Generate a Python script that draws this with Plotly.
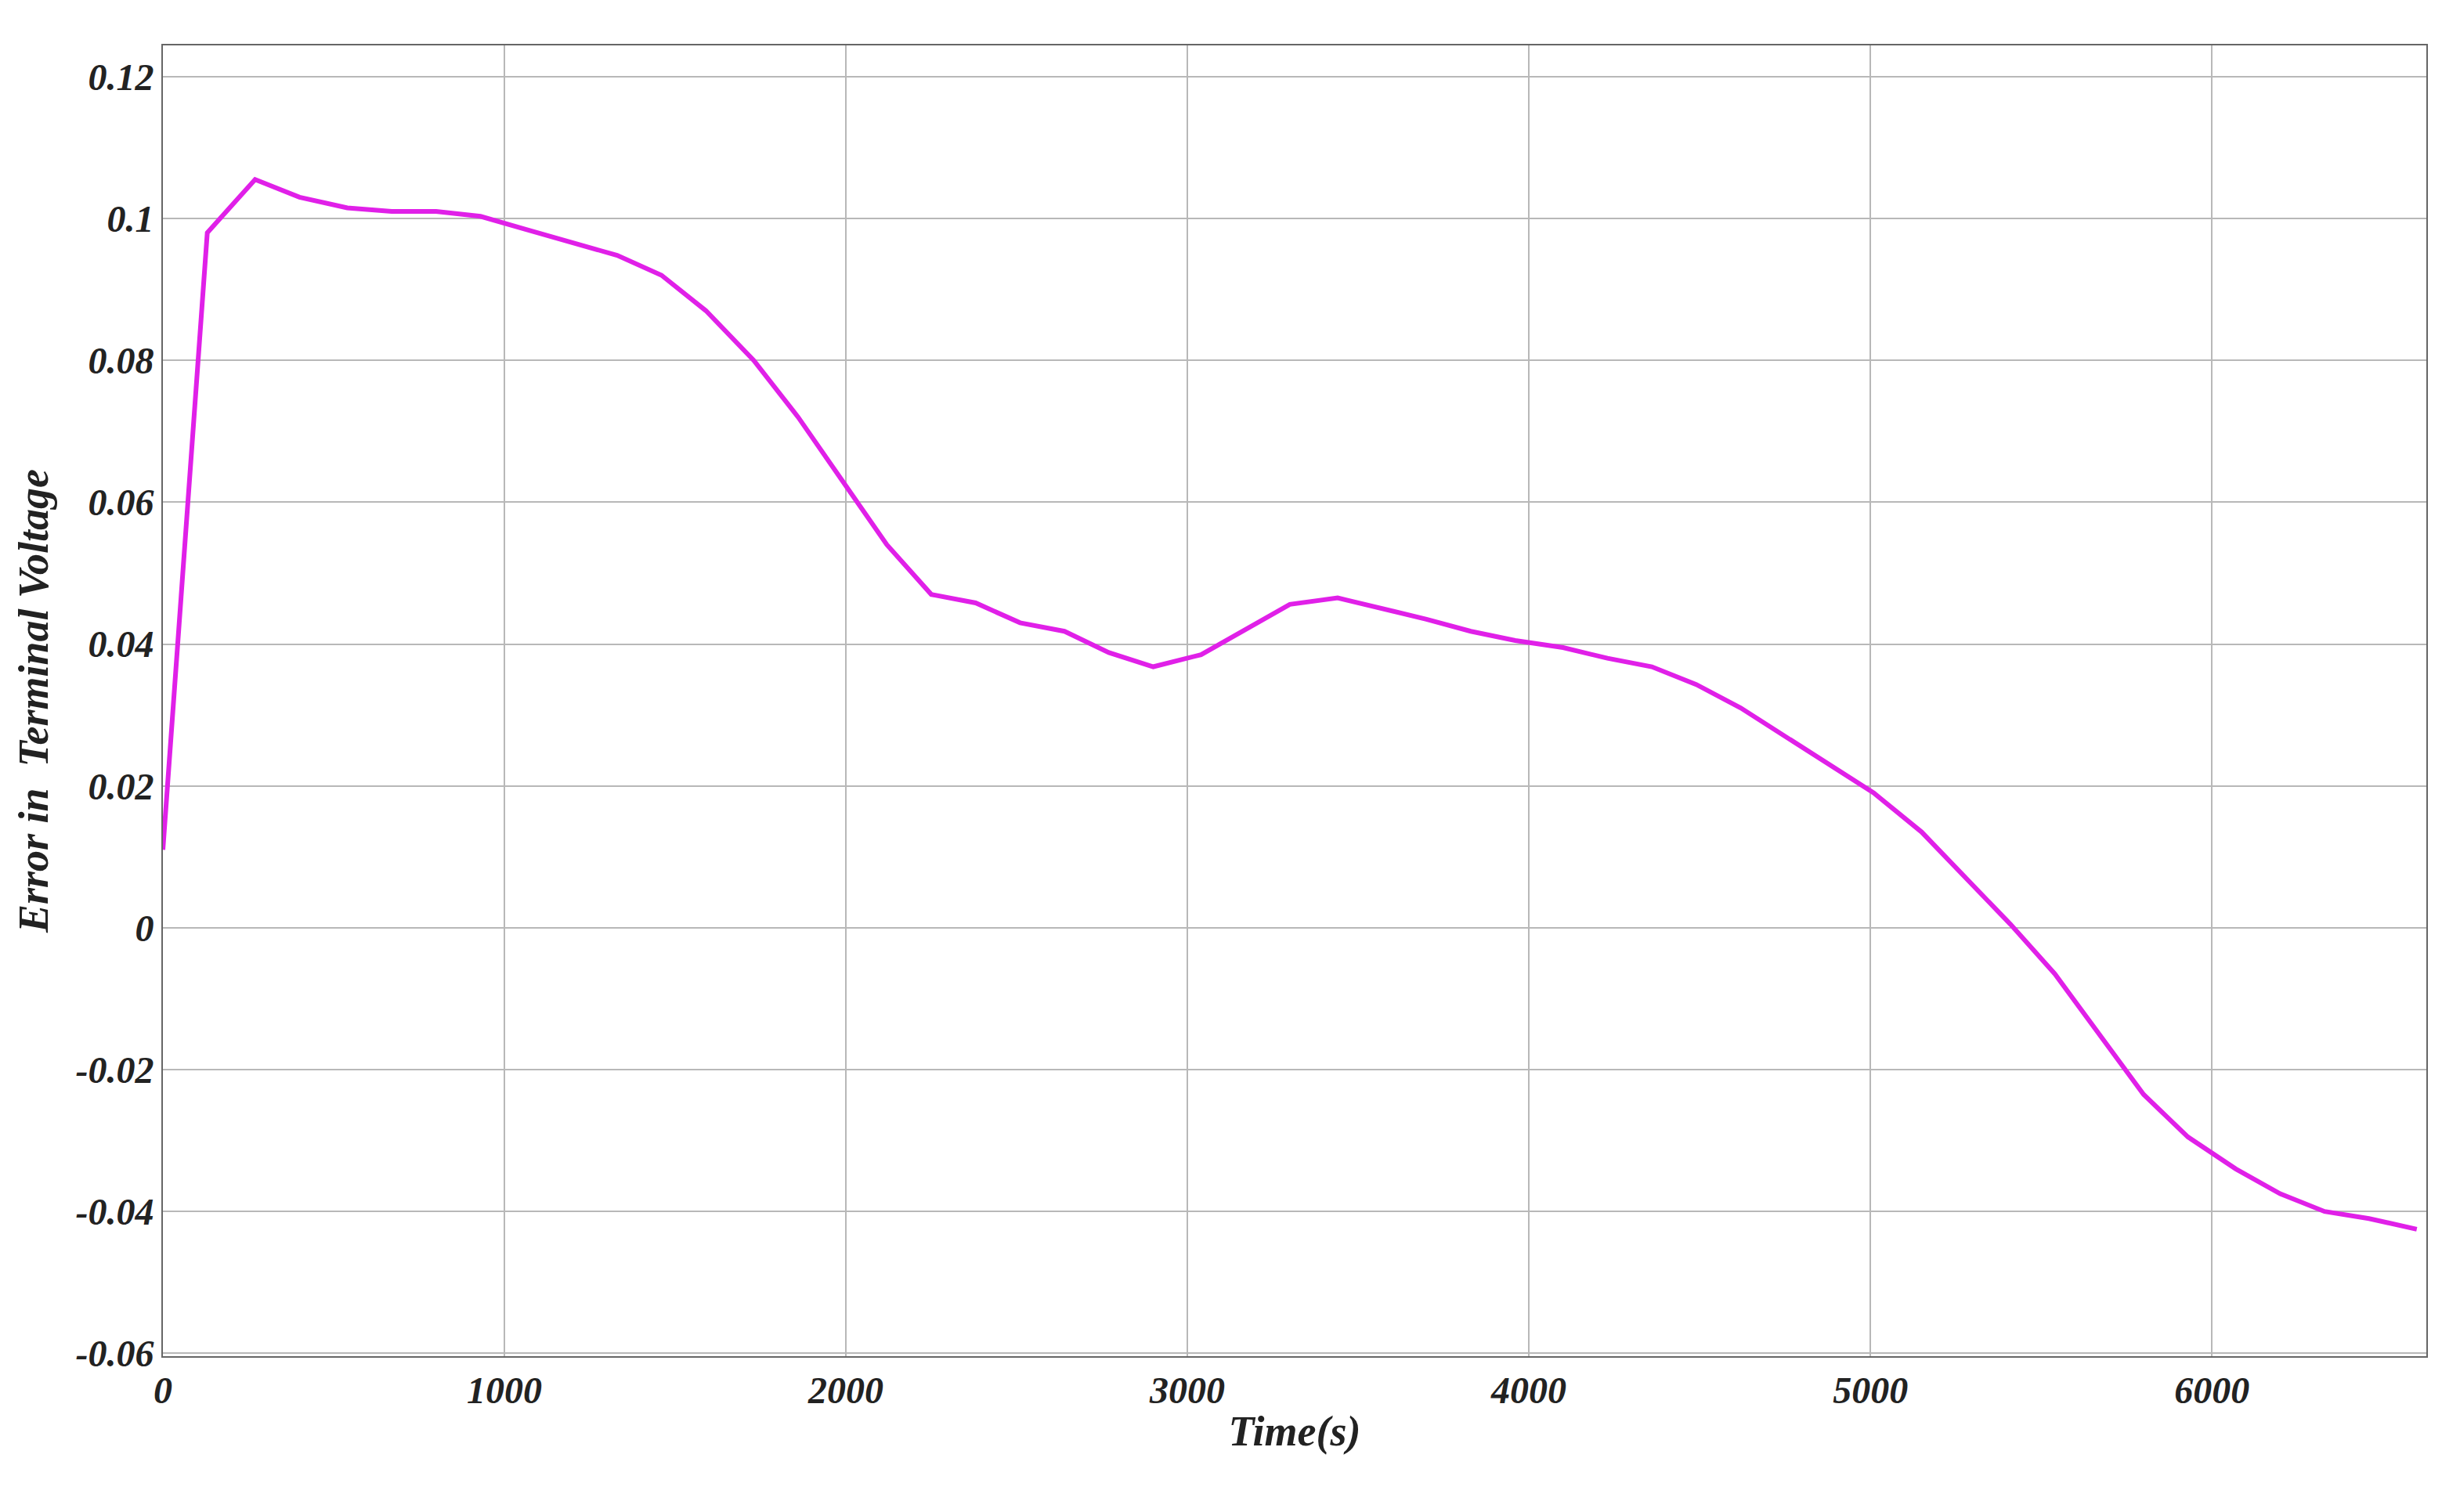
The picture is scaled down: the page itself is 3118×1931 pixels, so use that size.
import plotly.graph_objects as go

time_s = [0,130,270,400,540,670,800,930,1060,1200,1330,1460,1590,1730,1860,1990,2120,2250,2380,2510,2640,2770,2900,3040,3170,3300,3440,3570,3700,3830,3960,4100,4230,4360,4490,4620,4750,4880,5010,5150,5280,5410,5540,5670,5800,5930,6070,6200,6330,6460,6600]
error_v = [0.011,0.098,0.1055,0.103,0.1015,0.101,0.101,0.1003,0.0985,0.0965,0.0948,0.092,0.087,0.080,0.072,0.063,0.054,0.047,0.0458,0.043,0.0418,0.0388,0.0368,0.0385,0.042,0.0456,0.0465,0.045,0.0435,0.0418,0.0405,0.0395,0.038,0.0368,0.0343,0.031,0.027,0.023,0.019,0.0135,0.007,0.0005,-0.0065,-0.015,-0.0235,-0.0295,-0.034,-0.0375,-0.040,-0.041,-0.0425]
x_ticks = [0,1000,2000,3000,4000,5000,6000]
x_labels = ["0","1000","2000","3000","4000","5000","6000"]
y_ticks = [-0.06,-0.04,-0.02,0,0.02,0.04,0.06,0.08,0.1,0.12]
y_labels = ["-0.06","-0.04","-0.02","0","0.02","0.04","0.06","0.08","0.1","0.12"]

def bi(t):
    return "<b><i>" + t + "</i></b>"

font = dict(family="Liberation Serif", color="#222")
fig = go.Figure(go.Scatter(x=time_s, y=error_v, mode="lines",
                           line=dict(color="#e020e8", width=6)))
axis_common = dict(showgrid=True, gridcolor="#b8b8b8", gridwidth=2, showline=True,
                   linecolor="#666", linewidth=2, mirror=True, zeroline=False,
                   ticks="", tickfont=dict(size=48, **font))
fig.update_xaxes(range=[0,6628], tickvals=x_ticks, ticktext=[bi(t) for t in x_labels], **axis_common,
                 title=dict(text=bi("Time(s)"), font=dict(size=54, **font), standoff=8))
fig.update_yaxes(range=[-0.0604,0.1244], tickvals=y_ticks, ticktext=[bi(t) for t in y_labels], **axis_common,
                 title=dict(text=bi("Error in  Terminal Voltage"), font=dict(size=54, **font), standoff=18))
fig.update_layout(width=3118, height=1931, plot_bgcolor="white", paper_bgcolor="white",
                  margin=dict(l=200, r=28, t=50, b=207), showlegend=False)
fig.write_html("out.html")
